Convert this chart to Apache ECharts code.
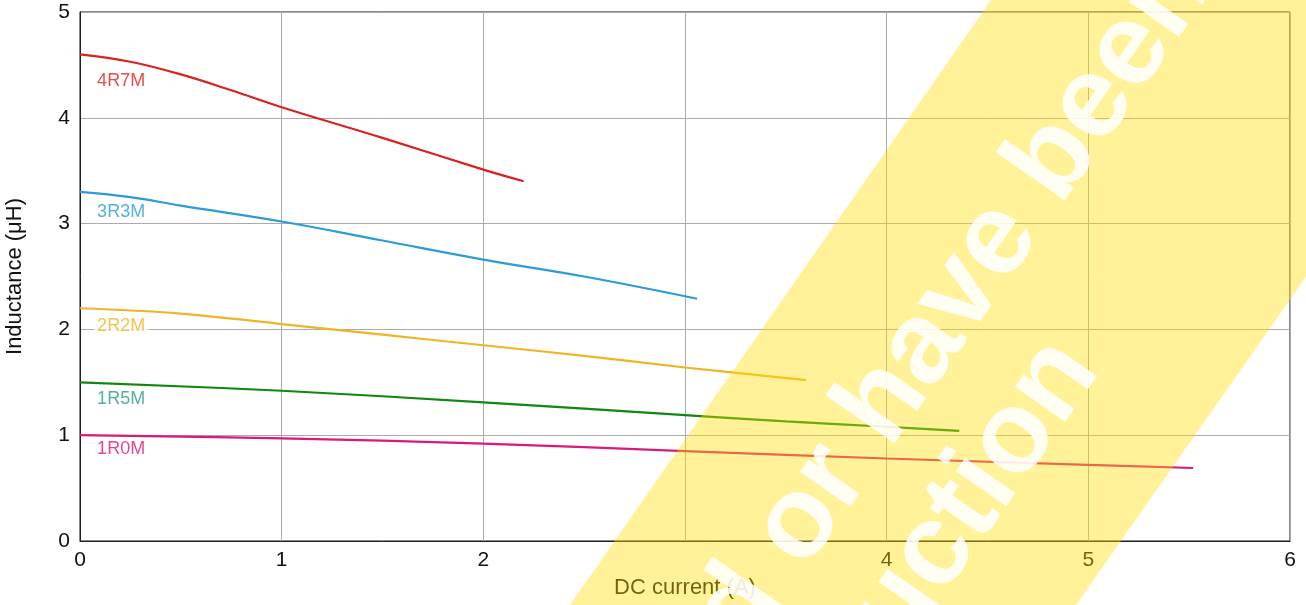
<!DOCTYPE html>
<html>
<head>
<meta charset="utf-8">
<script src="https://cdn.jsdelivr.net/npm/echarts@6/dist/echarts.min.js"></script>
<style>
  html, body { margin: 0; padding: 0; background: #fff; }
  #myChart { width: 1306px; height: 605px; }
</style>
</head>
<body>
<div id="myChart"></div>
<script>
// curves: [DC current (A), inductance (uH)]
var curve4R7M = [[0, 4.6], [0.25, 4.53], [0.5, 4.41], [0.75, 4.26], [1.0, 4.10], [1.5, 3.81], [2.0, 3.51], [2.2, 3.40]]
var curve3R3M = [[0, 3.3], [0.25, 3.25], [0.5, 3.17], [1.0, 3.02], [1.5, 2.84], [2.0, 2.66], [2.5, 2.50], [3.06, 2.29]]
var curve2R2M = [[0, 2.2], [0.5, 2.15], [1.0, 2.05], [1.5, 1.95], [2.0, 1.85], [2.5, 1.75], [3.0, 1.64], [3.6, 1.52]]
var curve1R5M = [[0, 1.5], [1.0, 1.42], [2.0, 1.31], [3.0, 1.19], [3.5, 1.13], [4.0, 1.08], [4.36, 1.04]]
var curve1R0M = [[0, 1.0], [1.0, 0.97], [2.0, 0.92], [3.0, 0.85], [4.0, 0.78], [5.0, 0.72], [5.52, 0.69]]

var names = ['4R7M', '3R3M', '2R2M', '1R5M', '1R0M']
var lineColors = ['#d8231f', '#2c9bd8', '#f0b425', '#10870e', '#d9197b']
var labelColors = ['#d8231f', '#2c9bd8', '#f0b425', '#2a9a8b', '#d9197b']
// where the part names sit
var labelX = [0.07, 0.07, 0.07, 0.07, 0.07]
var labelY = [4.35, 3.11, 2.03, 1.34, 0.87]

var xTicks = ['0', '1', '2', '', '4', '5', '6']

var curves = [curve4R7M, curve3R3M, curve2R2M, curve1R5M, curve1R0M]
var font = 'Liberation Sans, Arial, Helvetica, sans-serif'

var series = []
for (var i = 0; i < curves.length; i++) {
  series.push({
    name: names[i],
    type: 'line',
    data: curves[i],
    smooth: 0.4,
    showSymbol: false,
    lineStyle: { color: lineColors[i], width: 2.2 },
    z: 3
  })
}
var labelData = []
for (var k = 0; k < names.length; k++) {
  labelData.push({
    value: [labelX[k], labelY[k]],
    name: names[k],
    label: { color: labelColors[k] }
  })
}
series.push({
  type: 'scatter',
  data: labelData,
  symbolSize: 0,
  z: 4,
  label: {
    show: true,
    position: 'right',
    distance: 0,
    formatter: function (p) { return p.name },
    fontFamily: font,
    fontSize: 18,
    backgroundColor: '#fff',
    padding: [0, 3]
  }
})

var myChart = echarts.init(document.getElementById('myChart'))
myChart.setOption({
  animation: false,
  grid: {
    left: 80, right: 16, top: 12, bottom: 64,
    outerBoundsMode: 'none',
    show: true, borderColor: '#111', borderWidth: 1
  },
  xAxis: {
    type: 'value', min: 0, max: 6, interval: 1,
    name: 'DC current (A)', nameLocation: 'middle', nameGap: 36,
    nameTextStyle: { fontFamily: font, fontSize: 22, color: '#111' },
    axisLine: { lineStyle: { color: '#222' } },
    axisTick: { show: false },
    axisLabel: {
      fontFamily: font, fontSize: 21, color: '#111', margin: 9,
      formatter: function (v) { return xTicks[Math.round(v)] }
    },
    splitLine: { lineStyle: { color: '#aaa', width: 1 } }
  },
  yAxis: {
    type: 'value', min: 0, max: 5, interval: 1,
    name: 'Inductance (\u03bcH)', nameLocation: 'middle', nameGap: 54, nameRotate: 90,
    nameTextStyle: { fontFamily: font, fontSize: 22, color: '#111' },
    axisLine: { show: true, lineStyle: { color: '#222' } },
    axisTick: { show: false },
    axisLabel: { fontFamily: font, fontSize: 21, color: '#111', margin: 10 },
    splitLine: { lineStyle: { color: '#aaa', width: 1 } }
  },
  series: series,
  // watermark band laid over the chart
  graphic: [
    {
      type: 'polygon', z: 100, silent: true,
      shape: { points: [[570, 605], [991, 0], [1500, 0], [1076, 605]] },
      style: { fill: 'rgba(255,222,0,0.4)' }
    },
    {
      type: 'text', z: 101, silent: true,
      x: 1189, y: -33, rotation: 55 * Math.PI / 180,
      style: {
        text: 'discontinued or have been',
        fill: 'rgba(255,255,255,0.88)',
        font: 'bold 116px Liberation Sans, Arial, sans-serif',
        textAlign: 'right', textVerticalAlign: 'middle'
      }
    },
    {
      type: 'text', z: 101, silent: true,
      x: 1075, y: 352, rotation: 55 * Math.PI / 180,
      style: {
        text: 'from production',
        fill: 'rgba(255,255,255,0.88)',
        font: 'bold 116px Liberation Sans, Arial, sans-serif',
        textAlign: 'right', textVerticalAlign: 'middle'
      }
    }
  ]
})
</script>
</body>
</html>
